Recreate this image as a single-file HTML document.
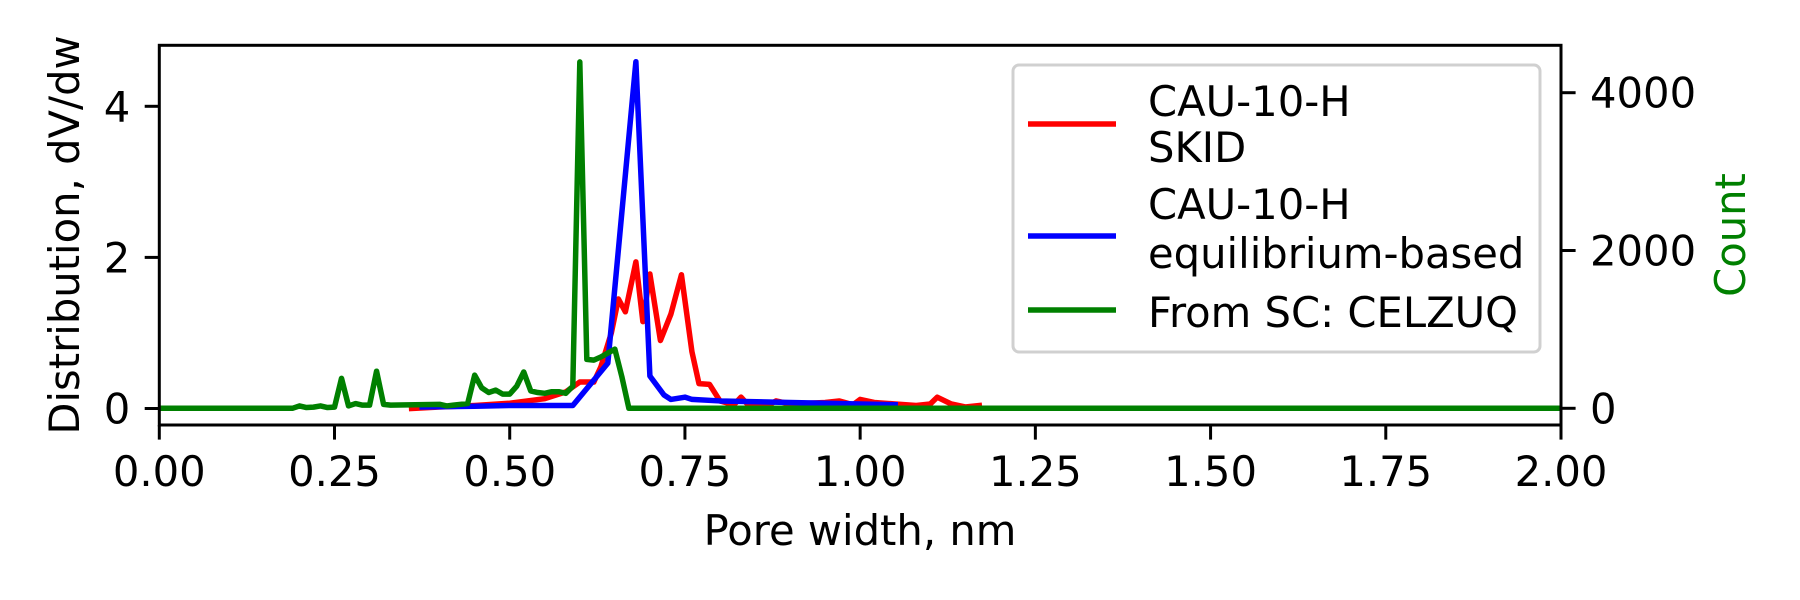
<!DOCTYPE html>
<html><head><meta charset="utf-8">
<style>
html,body{margin:0;padding:0;background:#fff;}
body{position:relative;width:1800px;height:600px;overflow:hidden;}
svg{display:block;font-family:"DejaVu Sans","Liberation Sans",sans-serif;}
</style></head>
<body>
<svg id="chart" width="1800" height="600" viewBox="0 0 1800 600" xmlns="http://www.w3.org/2000/svg">
<rect x="0" y="0" width="1800" height="600" fill="#fff"/>
<g id="plot"></g>
</svg>
<script>
const xTicks = [0, 0.25, 0.5, 0.75, 1.0, 1.25, 1.5, 1.75, 2.0];
const xTickLabels = ["0.00","0.25","0.50","0.75","1.00","1.25","1.50","1.75","2.00"];
const yLeftTicks = [0, 2, 4];
const yRightTicks = [0, 2000, 4000];

const redX = [0.36,0.40,0.45,0.50,0.55,0.58,0.60,0.62,0.63,0.645,0.655,0.665,0.68,0.69,0.70,0.715,0.73,0.745,0.76,0.77,0.785,0.80,0.82,0.83,0.84,0.87,0.88,0.90,0.95,0.97,0.99,1.00,1.02,1.05,1.08,1.10,1.11,1.13,1.15,1.17];
const redY = [0,0.02,0.04,0.07,0.13,0.22,0.35,0.35,0.55,1.0,1.45,1.28,1.94,1.15,1.78,0.9,1.25,1.77,0.75,0.33,0.32,0.1,0.05,0.15,0.05,0.05,0.1,0.06,0.08,0.1,0.05,0.12,0.08,0.06,0.04,0.06,0.15,0.06,0.02,0.04];

const blueX = [0.375,0.45,0.50,0.59,0.64,0.68,0.70,0.72,0.73,0.75,0.76,0.80,0.90,1.00,1.05];
const blueY = [0.02,0.03,0.04,0.04,0.6,4.59,0.43,0.18,0.12,0.15,0.12,0.1,0.08,0.06,0.05];

const greenX = [0,0.19,0.20,0.21,0.22,0.23,0.24,0.25,0.26,0.27,0.28,0.29,0.30,0.31,0.32,0.33,0.40,0.41,0.42,0.44,0.45,0.46,0.47,0.48,0.49,0.50,0.51,0.52,0.53,0.54,0.55,0.56,0.57,0.58,0.59,0.60,0.61,0.62,0.63,0.64,0.65,0.66,0.67,2.0];
const greenY = [0,0,30,10,15,30,10,15,380,30,60,40,40,470,50,40,50,30,40,60,420,260,200,230,180,180,280,460,220,200,190,210,210,190,280,4390,620,610,650,700,750,400,0,0];

const L=159.3, R=1561, T=45.3, B=425;
const FS=41.7, TL=14.6, LW=5.5, SW=3;
function xs(v){return L+(v-0)/2*(R-L);}
function yl(v){return 408.5 - v*75.55;}
function yr(v){return 408.3 - v*0.0789;}

const NS="http://www.w3.org/2000/svg";
const g=document.getElementById('plot');
function mk(tag,attrs,parent){const e=document.createElementNS(NS,tag);for(const k in attrs)e.setAttribute(k,attrs[k]);(parent||g).appendChild(e);return e;}

const clip=mk('clipPath',{id:'clp'});
mk('rect',{x:L,y:T,width:R-L,height:B-T},clip);
const sg=mk('g',{'clip-path':'url(#clp)'});


function seriesIn(xa,ya,yf,color,name){
  const pts=xa.map((x,i)=>xs(x).toFixed(2)+','+yf(ya[i]).toFixed(2)).join(' ');
  const p=mk('polyline',{points:pts,fill:'none',stroke:color,'stroke-width':LW,'stroke-linejoin':'round','stroke-linecap':'square'},sg);
  
  
}
seriesIn(redX,redY,yl,'#ff0000','line-skid');
seriesIn(blueX,blueY,yl,'#0000ff','line-equilibrium');
seriesIn(greenX,greenY,yr,'#008000','line-celzuq');

const fr=mk('rect',{x:L,y:T,width:R-L,height:B-T,fill:'none',stroke:'#000','stroke-width':SW});



xTicks.forEach((v,i)=>{
  const t=mk('line',{x1:xs(v),x2:xs(v),y1:B,y2:B+TL,stroke:'#000','stroke-width':SW});
  
  
  const tx=mk('text',{x:xs(v),y:486,'font-size':FS,'text-anchor':'middle',fill:'#000'});
  tx.textContent=xTickLabels[i];
  
  
});
yLeftTicks.forEach(v=>{
  const t=mk('line',{x1:L-TL,x2:L,y1:yl(v),y2:yl(v),stroke:'#000','stroke-width':SW});
  
  
  const tx=mk('text',{x:L-29,y:yl(v)+15,'font-size':FS,'text-anchor':'end',fill:'#000'});
  tx.textContent=String(v);
  
  
});
yRightTicks.forEach(v=>{
  const t=mk('line',{x1:R,x2:R+TL,y1:yr(v),y2:yr(v),stroke:'#000','stroke-width':SW});
  
  
  const tx=mk('text',{x:R+29,y:yr(v)+15,'font-size':FS,'text-anchor':'start',fill:'#000'});
  tx.textContent=String(v);
  
  
});
</script>
<svg style="position:absolute;left:0;top:0" width="1800" height="600">
<text x="860" y="545" font-size="41.7" text-anchor="middle" font-family="DejaVu Sans, Liberation Sans, sans-serif">Pore width, nm</text>
<text transform="translate(79,235) rotate(-90)" font-size="41.7" text-anchor="middle" font-family="DejaVu Sans, Liberation Sans, sans-serif">Distribution, dV/dw</text>
<text transform="translate(1745,235) rotate(-90)" font-size="41.7" text-anchor="middle" fill="#008000" font-family="DejaVu Sans, Liberation Sans, sans-serif">Count</text>
<g font-family="DejaVu Sans, Liberation Sans, sans-serif" font-size="41.7">
<rect x="1013" y="65" width="527" height="287" rx="6" fill="#fff" fill-opacity="0.8" stroke="#d0d0d0" stroke-width="3"/>
<line x1="1028" x2="1116" y1="124" y2="124" stroke="#ff0000" stroke-width="5.5"/>
<text x="1148" y="116">CAU-10-H</text>
<text x="1148" y="162">SKID</text>
<line x1="1028" x2="1116" y1="236" y2="236" stroke="#0000ff" stroke-width="5.5"/>
<text x="1148" y="219">CAU-10-H</text>
<text x="1148" y="268">equilibrium-based</text>
<line x1="1028" x2="1116" y1="310" y2="310" stroke="#008000" stroke-width="5.5"/>
<text x="1148" y="327">From SC: CELZUQ</text>
</g>
</svg>
</body></html>
